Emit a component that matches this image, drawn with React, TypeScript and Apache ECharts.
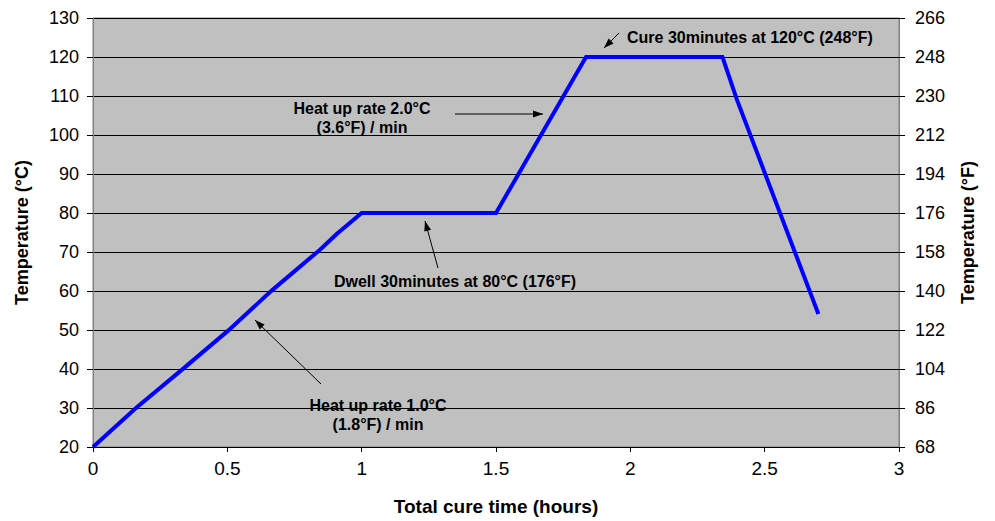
import React, { useEffect, useRef } from "react";
import * as echarts from "echarts";

// Cure profile: total cure time (hours) vs temperature (°C)
const timeHours = [0, 0.16, 0.336, 0.504, 0.665, 0.845, 0.907, 1.0, 1.5, 1.835, 2.343, 2.396, 2.7];
const tempC = [20, 30, 40.1, 49.9, 60.1, 70.6, 74.6, 80, 80, 120, 120, 109.2, 54.1];

// Axis ranges
const xRange = [0, 3];
const xStep = 0.5;
const cRange = [20, 130];
const cStep = 10;

const annotations = [
  { lines: ["Cure 30minutes at 120°C (248°F)"], x: 627, y: 37, align: "left", arrow: [619, 33, 604, 48] },
  { lines: ["Heat up rate 2.0°C", "(3.6°F) / min"], x: 362, y: 108, align: "center", arrow: [455, 114, 543, 114] },
  { lines: ["Dwell 30minutes at 80°C (176°F)"], x: 455, y: 281, align: "center", arrow: [438, 268, 425, 221] },
  { lines: ["Heat up rate 1.0°C", "(1.8°F) / min"], x: 378, y: 405, align: "center", arrow: [321, 384, 255, 320] },
];

const FONT = "'Liberation Sans', Arial, Helvetica, sans-serif";

function arrowHead(x1: number, y1: number, x2: number, y2: number) {
  const dx = x2 - x1;
  const dy = y2 - y1;
  const len = Math.sqrt(dx * dx + dy * dy);
  const ux = dx / len;
  const uy = dy / len;
  const L = 10;
  const W = 3.5;
  const bx = x2 - ux * L;
  const by = y2 - uy * L;
  return [
    [x2, y2],
    [bx - uy * W, by + ux * W],
    [bx + uy * W, by - ux * W],
  ];
}

export default function App() {
  const ref = useRef<HTMLDivElement>(null);

  useEffect(() => {
    if (!ref.current) return;
    const chart = echarts.init(ref.current, undefined, { renderer: "svg" });

    const graphics: any[] = [];
    annotations.forEach((a) => {
      a.lines.forEach((t, i) => {
        graphics.push({
          type: "text",
          style: {
            text: t,
            x: a.x,
            y: a.y + i * 19,
            font: `bold 16px ${FONT}`,
            fill: "#000",
            textAlign: a.align,
            textVerticalAlign: "middle",
          },
        });
      });
      const [x1, y1, x2, y2] = a.arrow;
      graphics.push({
        type: "line",
        shape: { x1, y1, x2, y2 },
        style: { stroke: "#000", lineWidth: 1 },
      });
      graphics.push({
        type: "polygon",
        shape: { points: arrowHead(x1, y1, x2, y2) },
        style: { fill: "#000" },
      });
    });

    const tickLabel = { color: "#000", fontSize: 18, fontFamily: FONT };
    const axisName = { color: "#000", fontSize: 18, fontWeight: "bold", fontFamily: FONT };

    chart.setOption({
      animation: false,
      backgroundColor: "#fff",
      grid: {
        left: 93,
        right: 96,
        top: 18,
        bottom: 70,
        show: true,
        backgroundColor: "#C0C0C0",
        borderColor: "#808080",
        borderWidth: 1,
      },
      xAxis: {
        type: "value",
        min: xRange[0],
        max: xRange[1],
        interval: xStep,
        name: "Total cure time (hours)",
        nameLocation: "middle",
        nameGap: 50,
        nameTextStyle: { ...axisName, fontSize: 19 },
        axisLine: { show: true, lineStyle: { color: "#000", width: 1 } },
        axisTick: { show: true, length: 5, lineStyle: { color: "#000" } },
        axisLabel: { ...tickLabel, fontSize: 19, margin: 12 },
        splitLine: { show: false },
      },
      yAxis: [
        {
          type: "value",
          min: cRange[0],
          max: cRange[1],
          interval: cStep,
          name: "Temperature (°C)",
          nameLocation: "middle",
          nameRotate: 90,
          nameGap: 62,
          nameTextStyle: axisName,
          axisLine: { show: true, lineStyle: { color: "#808080", width: 1 } },
          axisTick: { show: true, length: 6, lineStyle: { color: "#000" } },
          axisLabel: { ...tickLabel, margin: 14 },
          splitLine: { show: true, lineStyle: { color: "#000", width: 1 } },
        },
        {
          type: "value",
          position: "right",
          min: cRange[0],
          max: cRange[1],
          interval: cStep,
          name: "Temperature (°F)",
          nameLocation: "middle",
          nameRotate: 90,
          nameGap: 60,
          nameTextStyle: axisName,
          axisLine: { show: true, lineStyle: { color: "#808080", width: 1 } },
          axisTick: { show: true, length: 6, lineStyle: { color: "#000" } },
          axisLabel: {
            ...tickLabel,
            margin: 16,
            formatter: (v: number) => String(Math.round(v * 1.8 + 32)),
          },
          splitLine: { show: false },
        },
      ],
      series: [
        {
          type: "line",
          data: timeHours.map((t, i) => [t, tempC[i]]),
          yAxisIndex: 0,
          showSymbol: false,
          symbol: "none",
          lineStyle: { color: "#0000FF", width: 4, join: "miter" },
          z: 3,
        },
      ],
      graphic: graphics,
    });

    return () => chart.dispose();
  }, []);

  return <div ref={ref} style={{ width: 995, height: 521, position: "absolute", left: 0, top: 0 }} />;
}
